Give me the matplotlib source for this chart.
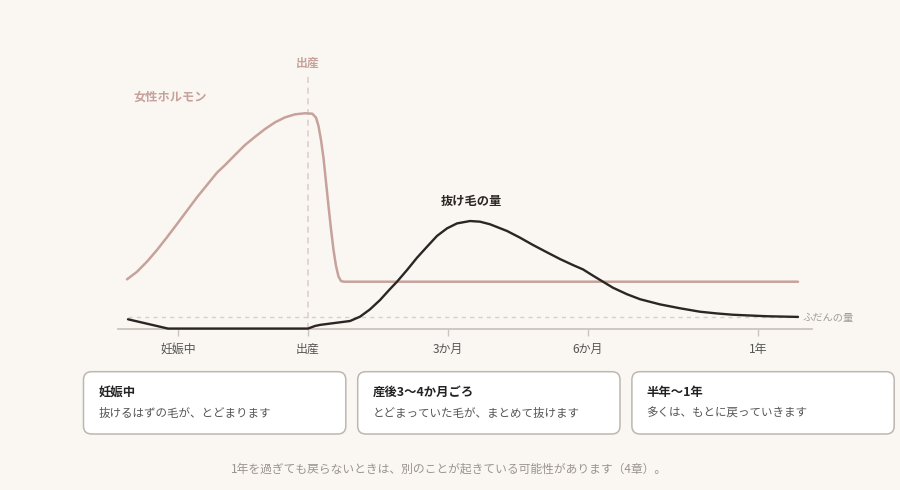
import matplotlib.pyplot as plt
from matplotlib.patches import FancyBboxPatch

plt.rcParams['font.family'] = ['Noto Sans CJK JP', 'DejaVu Sans']

BG = '#faf7f2'
PINK = '#c7a29c'
DARK = '#2b2624'
AXIS = '#cbc5bd'
VLINE = '#dccbc7'

# timeline position (arbitrary units), level 0-100 (hormone peak = 100)
tick_pos = [-13, 0, 14, 28, 45]
tick_labels = ['妊娠中', '出産', '3か月', '6か月', '1年']

hormone_x = [-18.1, -17.1, -16.1, -15.1, -14.1, -13.1, -12.1, -11.1, -10.1, -9.1,
             -8.3, -7.3, -6.3, -5.3, -4.3, -3.3, -2.3, -1.3, -0.3, 0.43,
             0.8, 1.05, 1.3, 1.55, 1.8, 2.05, 2.3, 2.55, 2.8, 3.05, 3.3, 3.6, 49.0]
hormone_y = [23.0, 26.5, 31.2, 36.6, 42.5, 48.6, 54.8, 61.0, 66.7, 72.4,
             75.9, 80.6, 85.2, 89.0, 92.6, 95.7, 98.0, 99.4, 99.9, 99.7,
             97.9, 94.0, 87.5, 79.2, 68.1, 56.9, 46.3, 36.6, 29.2, 24.3, 22.2, 21.9, 21.9]

hair_x = [-18.0, -14.0, 0.0, 0.7, 1.2, 2.2, 3.2, 4.2, 5.2, 6.2, 7.2, 8.2, 8.9,
          9.9, 10.9, 11.9, 12.9, 13.9, 14.9, 16.2, 17.2, 18.2, 19.9, 21.2, 22.5,
          23.9, 25.2, 26.5, 27.5, 28.5, 29.5, 30.5, 31.9, 33.2, 35.2, 37.2, 39.2,
          40.9, 42.5, 45.9, 49.0]
hair_y = [4.5, 0.2, 0.2, 1.4, 1.9, 2.5, 3.1, 3.7, 5.7, 9.1, 13.4, 18.5, 21.9,
          27.3, 33.0, 38.1, 43.1, 46.6, 48.9, 50.0, 49.7, 48.5, 45.4, 42.3, 38.9,
          35.5, 32.4, 29.6, 27.6, 24.7, 21.9, 19.1, 16.1, 13.8, 11.4, 9.6, 8.0,
          7.2, 6.6, 5.9, 5.6]

normal_level = 5.5

cards = [
    ('妊娠中', '抜けるはずの毛が、とどまります'),
    ('産後3〜4か月ごろ', 'とどまっていた毛が、まとめて抜けます'),
    ('半年〜1年', '多くは、もとに戻っていきます'),
]
footnote = '1年を過ぎても戻らないときは、別のことが起きている可能性があります（4章）。'

fig = plt.figure(figsize=(9, 4.9), dpi=100, facecolor=BG)

ax = fig.add_axes([118 / 900, (490 - 329) / 490, 694 / 900, 279 / 490])
ax.set_facecolor(BG)
ax.set_xlim(-19, 50.4)
ax.set_ylim(0, 129.2)
for side in ['top', 'left', 'right']:
    ax.spines[side].set_visible(False)
ax.spines['bottom'].set_color(AXIS)
ax.spines['bottom'].set_linewidth(1.3)
ax.set_yticks([])
ax.set_xticks(tick_pos, tick_labels)
ax.tick_params(axis='x', length=5, width=1, color=AXIS, labelcolor='#555555',
               labelsize=8.6, pad=5)

# birth marker and normal level
ax.plot([0, 0], [0, 117.6], color=VLINE, lw=1.1, ls=(0, (4, 3)), zorder=1)
ax.plot([-18, 49], [normal_level, normal_level], color='#d6d0c9', lw=1,
        ls=(0, (3, 3)), zorder=1)

ax.plot(hormone_x, hormone_y, color=PINK, lw=1.8, solid_capstyle='round',
        solid_joinstyle='round', zorder=2, clip_on=False)
ax.plot(hair_x, hair_y, color=DARK, lw=1.7, solid_capstyle='round',
        solid_joinstyle='round', zorder=3, clip_on=False)

ax.text(0, 123.1, '出産', color=PINK, fontsize=8.6, fontweight='bold',
        ha='center', va='center')
ax.text(-17.5, 107.4, '女性ホルモン', color=PINK, fontsize=8.8, fontweight='bold',
        ha='left', va='center')
ax.text(16.3, 59.3, '抜け毛の量', color=DARK, fontsize=8.8, fontweight='bold',
        ha='center', va='center')
ax.text(49.5, 5.1, 'ふだんの量', color='#a39d97', fontsize=7.4,
        ha='left', va='center')

# cards and footnote, laid out in pixel units
lay = fig.add_axes([0, 0, 1, 1])
lay.set_xlim(0, 900)
lay.set_ylim(490, 0)
lay.axis('off')
lay.patch.set_visible(False)

card_left, card_w, card_gap = 83.5, 262.3, 11.9
card_top, card_h = 371.7, 62.3
for i, (title, body) in enumerate(cards):
    x0 = card_left + i * (card_w + card_gap)
    lay.add_patch(FancyBboxPatch((x0, card_top), card_w, card_h,
                                 boxstyle='round,pad=0,rounding_size=8',
                                 facecolor='white', edgecolor='#bdb7b0', lw=1.1))
    lay.text(x0 + 14.8, card_top + 20.6, title, fontsize=8.9, fontweight='bold',
             color='#222222', ha='left', va='center')
    lay.text(x0 + 14.8, card_top + 41.6, body, fontsize=8.3, color='#555555',
             ha='left', va='center')

lay.text(449, 469, footnote, fontsize=8.5, color='#9a948e', ha='center', va='center')

fig.savefig('out.png', dpi=100, facecolor=BG)
